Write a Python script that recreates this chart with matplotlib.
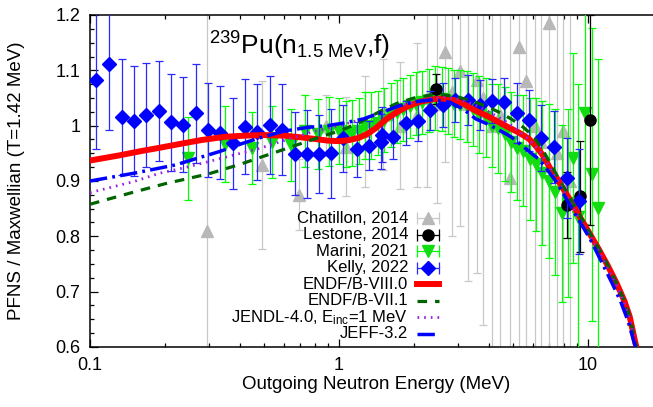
import matplotlib
matplotlib.use('Agg')
import matplotlib.pyplot as plt
from matplotlib.ticker import FuncFormatter, MultipleLocator, LogLocator, NullFormatter

plt.rcParams['font.family'] = ['Liberation Sans', 'DejaVu Sans']
plt.rcParams['mathtext.fontset'] = 'custom'
plt.rcParams['mathtext.rm'] = 'Liberation Sans'
plt.rcParams['mathtext.it'] = 'Liberation Sans:italic'

# Chatillon, 2014
chat_e = [0.295, 0.49, 0.69, 0.89, 1.07, 1.27, 1.5, 1.75, 2.05, 2.25, 2.47, 2.66, 2.83, 3.06,
          3.3, 3.57, 3.8, 4.1, 4.45, 4.86, 5.28, 5.65, 6.1, 6.5, 7.0, 7.5, 7.9, 8.5]
chat_v = [0.81, 0.929, 0.875, 1.0, 0.962, 0.99, 1.02, 1.0, 1.02, 1.05, 1.04, 1.134, 1.06, 1.098,
          1.04, 1.083, 1.05, 1.0, 1.02, 0.905, 1.143, 1.08, 1.0, 0.97, 1.185, 0.95, 0.99, 0.9]
chat_err = [0.45, 0.152, 0.064, 0.055, 0.09, 0.1, 0.1, 0.115, 0.13, 0.16, 0.18, 0.2, 0.26, 0.28,
            0.32, 0.35, 0.41, 0.42, 0.45, 0.4, 0.55, 0.5, 0.5, 0.5, 0.6, 0.5, 0.5, 0.5]

# Lestone, 2014
lest_e = [2.45, 8.2, 9.3, 10.2]
lest_v = [1.067, 0.857, 0.872, 1.01]
lest_err = [0.027, 0.06, 0.1, 0.19]

# Marini, 2021
mar_e = [0.247, 0.348, 0.446, 0.54, 0.64, 0.73, 0.82, 0.91, 1.0, 1.07, 1.13, 1.2, 1.27, 1.35,
         1.43, 1.52, 1.61, 1.71, 1.81, 1.92, 2.04, 2.16, 2.29, 2.43, 2.58, 2.73, 2.9, 3.07,
         3.26, 3.45, 3.66, 3.88, 4.11, 4.36, 4.62, 4.9, 5.19, 5.5, 5.83, 6.18, 6.55, 6.94,
         7.36, 7.85, 8.3, 8.7, 9.1, 9.73, 10.4, 11.0]
mar_v = [0.941, 0.967, 0.96, 0.97, 0.965, 0.99, 0.985, 0.99, 0.99, 0.985, 0.987, 0.99, 1.0, 1.0,
         1.005, 1.01, 1.02, 1.025, 1.03, 1.035, 1.04, 1.042, 1.045, 1.05, 1.048, 1.045, 1.04, 1.038,
         1.035, 1.03, 1.02, 1.015, 1.0, 0.995, 0.985, 0.97, 0.96, 0.955, 0.94, 0.93, 0.915, 0.90,
         0.88, 0.842, 0.86, 0.941, 0.835, 1.023, 0.912, 0.851]
mar_err = [0.075, 0.068, 0.065, 0.065, 0.065, 0.065, 0.063, 0.062, 0.06, 0.06, 0.06, 0.06, 0.06, 0.06,
           0.058, 0.058, 0.058, 0.057, 0.057, 0.057, 0.057, 0.057, 0.057, 0.058, 0.058, 0.06, 0.06, 0.062,
           0.064, 0.066, 0.07, 0.072, 0.075, 0.08, 0.085, 0.09, 0.095, 0.1, 0.11, 0.12, 0.13, 0.14,
           0.15, 0.16, 0.17, 0.19, 0.24, 0.2, 0.265, 0.27]

# Kelly, 2022
kel_e = [0.106, 0.1195, 0.134, 0.150, 0.168, 0.189, 0.211, 0.237, 0.266, 0.298, 0.334, 0.374,
         0.42, 0.47, 0.528, 0.592, 0.664, 0.742, 0.83, 0.93, 1.04, 1.18, 1.32, 1.47, 1.49, 1.65,
         1.86, 2.07, 2.31, 2.61, 2.93, 3.29, 3.67, 4.11, 4.60, 5.17, 5.80, 6.49, 7.30, 8.26, 9.2]
kel_v = [1.082, 1.111, 1.016, 1.008, 1.019, 1.027, 1.006, 1.002, 1.022, 0.992, 0.987, 0.968,
         0.998, 0.989, 1.001, 0.993, 0.949, 0.949, 0.949, 0.95, 0.977, 0.957, 0.964, 0.971, 0.984, 0.98,
         1.005, 1.008, 1.028, 1.037, 1.046, 1.046, 1.037, 1.045, 1.043, 1.023, 1.010, 0.978, 0.962,
         0.905, 0.863]
kel_err = [0.124, 0.119, 0.105, 0.099, 0.094, 0.09, 0.088, 0.086, 0.089, 0.085, 0.084, 0.082,
           0.086, 0.087, 0.088, 0.083, 0.075, 0.08, 0.07, 0.08, 0.06, 0.05, 0.045, 0.05, 0.05, 0.04,
           0.04, 0.035, 0.035, 0.04, 0.04, 0.045, 0.045, 0.04, 0.043, 0.055, 0.055, 0.06, 0.065,
           0.072, 0.095]

# evaluations (ratio to Maxwellian)
b8_e = [0.1, 0.13, 0.16, 0.19, 0.23, 0.28, 0.35, 0.42, 0.5, 0.6, 0.7, 0.8, 0.9, 1.0, 1.1, 1.2,
        1.3, 1.4, 1.55, 1.7, 1.87, 2.1, 2.4, 2.6, 2.9, 3.2, 3.5, 4.0, 4.7, 5.3, 5.8, 6.2, 6.6,
        7.0, 7.5, 8.2, 9.0, 10, 11, 12, 13, 14, 14.7, 15.5, 16.5]
b8_v = [0.937, 0.946, 0.954, 0.96, 0.967, 0.974, 0.980, 0.982, 0.983, 0.982, 0.979, 0.976, 0.973,
        0.972, 0.974, 0.978, 0.985, 0.995, 1.012, 1.024, 1.034, 1.043, 1.048, 1.049, 1.046, 1.038,
        1.028, 1.016, 0.999, 0.987, 0.976, 0.962, 0.946, 0.925, 0.905, 0.876, 0.845, 0.810, 0.778,
        0.747, 0.716, 0.683, 0.655, 0.607, 0.56]

b7_e = [0.1, 0.15, 0.2, 0.3, 0.4, 0.5, 0.6, 0.75, 0.9, 1.0, 1.2, 1.45, 1.7, 2.0, 2.3, 2.6, 3.0,
        3.5, 4.0, 4.5, 5.0, 5.5, 6.0, 6.5, 7.0, 7.5, 8.0, 9.0, 10, 11, 12, 13, 14, 14.7, 15.5, 16.5]
b7_v = [0.858, 0.880, 0.895, 0.913, 0.930, 0.945, 0.957, 0.972, 0.984, 0.99, 1.005, 1.025, 1.04,
        1.05, 1.055, 1.056, 1.052, 1.043, 1.033, 1.022, 1.01, 0.997, 0.982, 0.96, 0.935, 0.91,
        0.888, 0.848, 0.812, 0.779, 0.748, 0.716, 0.683, 0.655, 0.607, 0.56]

jendl_e = [0.1, 0.15, 0.19, 0.25, 0.33, 0.48, 0.65, 0.8, 1.0, 1.2, 1.5, 1.8, 2.2, 2.6, 3.0, 3.5,
           4.0, 4.5, 5.0, 5.5, 6.0, 6.5, 7.0, 7.5, 8.2, 9.0, 10, 11, 12, 13, 14, 14.7, 15.5, 16.5]
jendl_v = [0.879, 0.899, 0.914, 0.926, 0.94, 0.959, 0.978, 0.99, 1.0, 1.01, 1.025, 1.037, 1.048,
           1.052, 1.048, 1.038, 1.025, 1.012, 0.998, 0.984, 0.968, 0.95, 0.925, 0.903, 0.873, 0.84,
           0.806, 0.774, 0.743, 0.712, 0.679, 0.652, 0.604, 0.557]

jeff_e = [0.1, 0.15, 0.22, 0.33, 0.41, 0.48, 0.6, 0.75, 0.9, 1.05, 1.25, 1.5, 1.75, 2.0, 2.4,
          2.8, 3.15, 3.55, 3.9, 4.4, 4.9, 5.5, 6.0, 6.4, 7.0, 7.5, 8.2, 9.0, 10.2, 11.5, 12.5,
          13.5, 14.5, 15.5, 16.5]
jeff_v = [0.900, 0.914, 0.929, 0.953, 0.968, 0.978, 0.99, 0.997, 1.0, 1.005, 1.012, 1.025, 1.036,
          1.043, 1.047, 1.042, 1.03, 1.012, 1.004, 0.992, 0.98, 0.962, 0.948, 0.938, 0.915, 0.897,
          0.867, 0.836, 0.795, 0.748, 0.715, 0.683, 0.646, 0.6, 0.55]

fig = plt.figure(figsize=(6.53, 4.07), dpi=100)
# gnuplot frame: right edge (x=20) falls just outside the picture
ax = fig.add_axes([90 / 653, 60 / 407, 573 / 653, 332 / 407])

eb = dict(elinewidth=0.9, capsize=3, capthick=0.9, linestyle='none')
ax.errorbar(chat_e, chat_v, yerr=chat_err, fmt='^', ms=8, color='#b8b8b8',
            ecolor='#c8c8c8', zorder=2, **eb)
ax.errorbar(mar_e, mar_v, yerr=mar_err, fmt='v', ms=8, color='#11dd11',
            ecolor='#00ff00', zorder=3, **eb)
ax.errorbar(lest_e, lest_v, yerr=lest_err, fmt='o', ms=8, color='black',
            ecolor='black', zorder=4, **eb)
ax.errorbar(kel_e, kel_v, yerr=kel_err, fmt='D', ms=7, color='#0000ff',
            ecolor='#2828ff', zorder=5, **eb)

ax.plot(b8_e, b8_v, color='#ff0000', lw=4.3, zorder=6)
ax.plot(b7_e, b7_v, color='#006400', lw=2.3, dashes=(3, 2.5), zorder=7)
ax.plot(jendl_e, jendl_v, color='#9a1ee6', lw=2, dashes=(0.6, 1.8), zorder=8)
ax.plot(jeff_e, jeff_v, color='#0000ff', lw=2.5, dashes=(5, 1.5, 0.8, 1.5), zorder=9)

ax.set_xscale('log')
ax.set_xlim(0.1, 20)
ax.set_ylim(0.6, 1.2)
ax.xaxis.set_major_locator(LogLocator(base=10))
ax.xaxis.set_minor_locator(LogLocator(base=10, subs=range(2, 10)))
ax.xaxis.set_minor_formatter(NullFormatter())
ax.xaxis.set_major_formatter(FuncFormatter(lambda x, p: '%g' % x))
ax.yaxis.set_major_locator(MultipleLocator(0.1))
ax.yaxis.set_minor_locator(MultipleLocator(0.025))
ax.yaxis.set_major_formatter(FuncFormatter(lambda y, p: '%g' % round(y, 3)))
ax.tick_params(which='both', direction='in', top=True, right=True, labelsize=13, width=0.9)
ax.tick_params(which='major', length=6, pad=7)
ax.tick_params(which='minor', length=3)
for s in ax.spines.values():
    s.set_linewidth(1.1)

ax.set_xlabel('Outgoing Neutron Energy (MeV)', fontsize=13.5)
ax.set_ylabel('PFNS / Maxwellian (T=1.42 MeV)', fontsize=13.5)
ax.xaxis.set_label_coords(0.5, -0.087)
ax.yaxis.set_label_coords(-0.113, 0.5)

ax.text(0.3665, 0.8795, r'$^{239}$Pu(n$_{1.5\ \mathrm{MeV}}$,f)', transform=ax.transAxes,
        ha='center', va='baseline', fontsize=19)

# gnuplot style key: text right aligned, sample on the right
labels = ['Chatillon, 2014', 'Lestone, 2014', 'Marini, 2021', 'Kelly, 2022', 'ENDF/B-VIII.0',
          'ENDF/B-VII.1', r'JENDL-4.0, E$_{\mathrm{inc}}$=1 MeV', 'JEFF-3.2']
tx, x0, x1 = 0.555, 0.571, 0.609
y_top, dy = 0.388, 0.0497
pts = [('^', 8, '#b8b8b8', '#c8c8c8'), ('o', 8, 'black', 'black'),
       ('v', 8, '#11dd11', '#00ff00'), ('D', 7, '#0000ff', '#2828ff')]
for i, lab in enumerate(labels):
    y = y_top - i * dy
    ax.text(tx, y, lab, transform=ax.transAxes, ha='right', va='center', fontsize=12)
    if i < 4:
        m, ms, c, ec = pts[i]
        ax.plot([x0, x1], [y, y], color=ec, lw=0.9, transform=ax.transAxes, clip_on=False, zorder=10)
        ax.plot([x0, x1], [y, y], ls='none', marker='|', ms=8, mew=0.9, color=ec,
                transform=ax.transAxes, clip_on=False, zorder=10)
        ax.plot([(x0 + x1) / 2], [y], ls='none', marker=m, ms=ms, color=c,
                transform=ax.transAxes, clip_on=False, zorder=11)
ly = [y_top - i * dy for i in range(4, 8)]
ax.plot([x0, x1], [ly[0]] * 2, color='#ff0000', lw=4.3, transform=ax.transAxes, zorder=10)
ax.plot([x0, x1], [ly[1]] * 2, color='#006400', lw=2.3, dashes=(3, 2.5), transform=ax.transAxes, zorder=10)
ax.plot([x0, x1], [ly[2]] * 2, color='#9a1ee6', lw=2, dashes=(0.6, 1.8), transform=ax.transAxes, zorder=10)
ax.plot([x0, x1], [ly[3]] * 2, color='#0000ff', lw=2.5, dashes=(5, 1.5, 0.8, 1.5),
        transform=ax.transAxes, zorder=10)

fig.savefig('out.png', dpi=100)
